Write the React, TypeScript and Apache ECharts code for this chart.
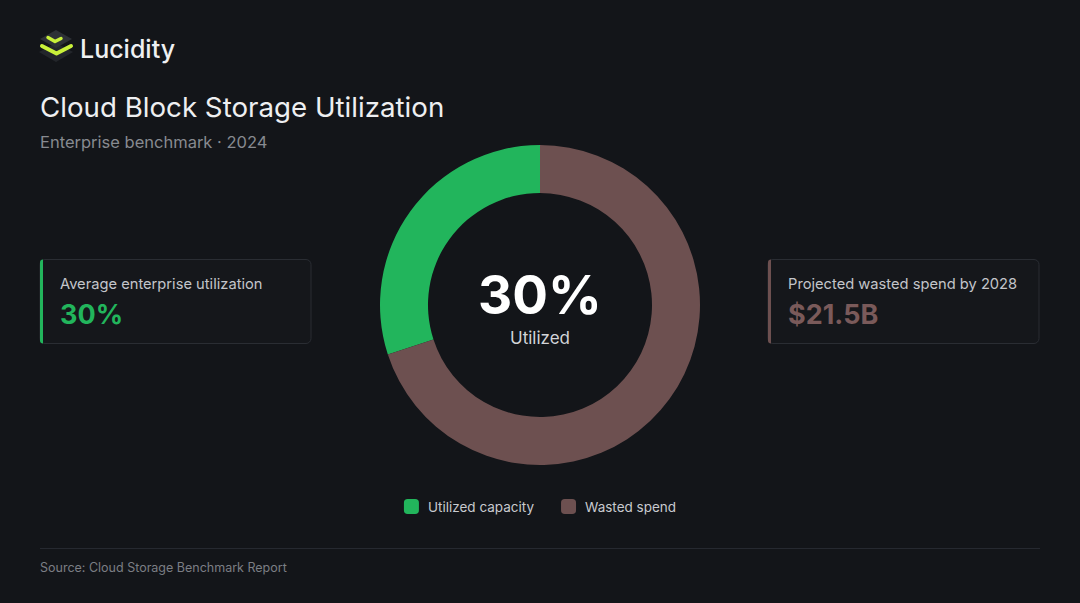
import React, { useEffect, useRef } from "react";
import * as echarts from "echarts";

const categories = ["Utilized capacity", "Wasted spend"];
const values = [30, 70];
const colors = ["#22b55c", "#6d5050"];
const brandName = "Lucidity";
const titleText = "Cloud Block Storage Utilization";
const subtitleText = "Enterprise benchmark · 2024";
const leftCard = { label: "Average enterprise utilization", value: "30%" };
const rightCard = { label: "Projected wasted spend by 2028", value: "$21.5B" };
const centerValue = "30%";
const centerLabel = "Utilized";
const sourceText = "Source: Cloud Storage Benchmark Report";

const FONT = "Inter, 'Noto Sans', sans-serif";
const BG = "#131519";

function card(x: number, label: string, value: string, accent: string, valueColor: string) {
  return {
    type: "group",
    children: [
      {
        type: "rect",
        shape: { x: x, y: 259.5, width: 271, height: 84, r: 5 },
        style: { fill: "#15171b", stroke: "#2a2d33", lineWidth: 1 },
      },
      {
        type: "rect",
        shape: { x: x, y: 259.5, width: 3, height: 84, r: [3, 0, 0, 3] },
        style: { fill: accent },
      },
      {
        type: "text",
        x: x + 20,
        y: 284,
        style: { text: label, fill: "#c3c5ca", font: `400 14.7px ${FONT}`, textVerticalAlign: "middle" },
      },
      {
        type: "text",
        x: x + 20,
        y: 314,
        style: { text: value, fill: valueColor, font: `700 27px ${FONT}`, textVerticalAlign: "middle" },
      },
    ],
  };
}

export default function App() {
  const ref = useRef<HTMLDivElement>(null);
  useEffect(() => {
    const chart = echarts.init(ref.current!, null, { renderer: "svg" });
    chart.setOption({
      animation: false,
      backgroundColor: BG,
      legend: {
        data: categories,
        top: 494,
        left: "center",
        icon: "roundRect",
        itemWidth: 15,
        itemHeight: 15,
        itemGap: 27,
        selectedMode: false,
        textStyle: { color: "#c8cacf", fontSize: 13.5, fontFamily: FONT, padding: [0, 0, 0, 4] },
      },
      series: [
        {
          type: "pie",
          center: [540, 305],
          radius: [112, 160],
          startAngle: 90,
          clockwise: false,
          silent: true,
          label: { show: false },
          labelLine: { show: false },
          itemStyle: { borderWidth: 0 },
          data: categories.map((c, i) => ({ name: c, value: values[i], itemStyle: { color: colors[i] } })),
        },
      ],
      graphic: [
        {
          type: "polygon",
          shape: { points: [[56, 43], [73, 52], [56, 62], [39, 52]] },
          style: { fill: "#23262b" },
        },
        {
          type: "polygon",
          shape: { points: [[56, 30], [72, 39], [56, 48], [40, 39]] },
          style: { fill: "#2d3036" },
        },
        {
          type: "polyline",
          shape: { points: [[42, 46], [56.5, 53.5], [71, 46]] },
          style: { stroke: "#c9f03a", lineWidth: 4, lineCap: "round", lineJoin: "round", fill: null },
        },
        {
          type: "polyline",
          shape: { points: [[48, 37.5], [55, 41.5], [61, 38.5]] },
          style: { stroke: "#c9f03a", lineWidth: 3.5, lineCap: "round", lineJoin: "round", fill: null },
        },
        {
          type: "text",
          x: 80,
          y: 49,
          style: { text: brandName, fill: "#eff0f2", font: `500 25px ${FONT}`, textVerticalAlign: "middle" },
        },
        {
          type: "text",
          x: 40,
          y: 107,
          style: { text: titleText, fill: "#eeeff1", font: `400 27.7px ${FONT}`, textVerticalAlign: "middle" },
        },
        {
          type: "text",
          x: 40,
          y: 142,
          style: { text: subtitleText, fill: "#878a90", font: `400 16.5px ${FONT}`, textVerticalAlign: "middle" },
        },
        card(40, leftCard.label, leftCard.value, colors[0], colors[0]),
        card(768, rightCard.label, rightCard.value, "#6d5050", "#7a5a5a"),
        {
          type: "text",
          x: 540,
          y: 295,
          style: {
            text: centerValue,
            fill: "#ffffff",
            font: `700 53px ${FONT}`,
            textAlign: "center",
            textVerticalAlign: "middle",
          },
        },
        {
          type: "text",
          x: 540,
          y: 338,
          style: {
            text: centerLabel,
            fill: "#d2d4d8",
            font: `400 17px ${FONT}`,
            textAlign: "center",
            textVerticalAlign: "middle",
          },
        },
        {
          type: "line",
          shape: { x1: 40, y1: 548.5, x2: 1040, y2: 548.5 },
          style: { stroke: "#262930", lineWidth: 1 },
        },
        {
          type: "text",
          x: 40,
          y: 567,
          style: { text: sourceText, fill: "#7b7e84", font: `400 12.5px ${FONT}`, textVerticalAlign: "middle" },
        },
      ],
    });
    return () => chart.dispose();
  }, []);
  return (
    <div
      ref={ref}
      style={{ position: "fixed", left: 0, top: 0, width: 1080, height: 603, background: BG }}
    />
  );
}
